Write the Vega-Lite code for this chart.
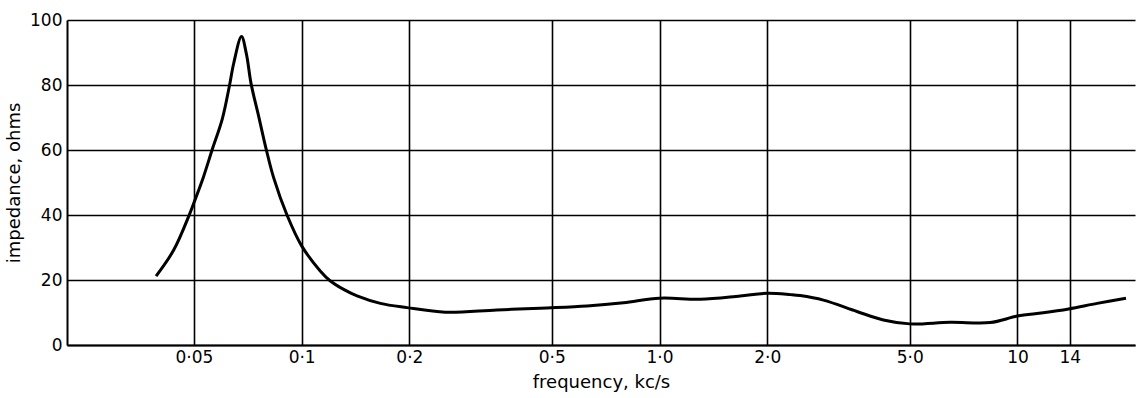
{
  "$schema": "https://vega.github.io/schema/vega-lite/v6.json",
  "width": 1068,
  "height": 325,
  "autosize": {"type": "none"},
  "padding": {"left": 67, "top": 20, "right": 5, "bottom": 53},
  "background": "white",
  "config": {
    "view": {"stroke": null},
    "font": "DejaVu Sans",
    "axis": {
      "labelFont": "DejaVu Sans",
      "titleFont": "DejaVu Sans",
      "labelColor": "black",
      "titleColor": "black",
      "labelFontSize": 17,
      "titleFontSize": 18,
      "titleFontWeight": "normal",
      "domainColor": "black",
      "domainWidth": 2,
      "gridColor": "black",
      "gridWidth": 1.6,
      "gridOpacity": 1,
      "ticks": false
    }
  },
  "data": {
    "values": [
      {"freq": 0.0392, "z": 21.2},
      {"freq": 0.0439, "z": 29.2},
      {"freq": 0.0486, "z": 40.2},
      {"freq": 0.0501, "z": 44},
      {"freq": 0.0532, "z": 51.8},
      {"freq": 0.0562, "z": 60},
      {"freq": 0.06, "z": 69.5},
      {"freq": 0.0629, "z": 80},
      {"freq": 0.0646, "z": 86.7},
      {"freq": 0.0679, "z": 94.9},
      {"freq": 0.0701, "z": 89.5},
      {"freq": 0.0722, "z": 80.5},
      {"freq": 0.0759, "z": 70.2},
      {"freq": 0.0797, "z": 60},
      {"freq": 0.0835, "z": 51.5},
      {"freq": 0.091, "z": 40},
      {"freq": 0.1, "z": 30.5},
      {"freq": 0.1127, "z": 22.8},
      {"freq": 0.1203, "z": 19.7},
      {"freq": 0.131, "z": 17.1},
      {"freq": 0.1428, "z": 15.1},
      {"freq": 0.166, "z": 12.8},
      {"freq": 0.197, "z": 11.5},
      {"freq": 0.252, "z": 10.1},
      {"freq": 0.351, "z": 10.8},
      {"freq": 0.485, "z": 11.4},
      {"freq": 0.627, "z": 12.0},
      {"freq": 0.793, "z": 13.0},
      {"freq": 1.0, "z": 14.4},
      {"freq": 1.3, "z": 14.1},
      {"freq": 1.68, "z": 15.1},
      {"freq": 2.0, "z": 15.9},
      {"freq": 2.32, "z": 15.5},
      {"freq": 2.47, "z": 15.2},
      {"freq": 2.87, "z": 13.8},
      {"freq": 3.56, "z": 10.3},
      {"freq": 4.22, "z": 7.7},
      {"freq": 5.0, "z": 6.5},
      {"freq": 6.49, "z": 7.0},
      {"freq": 8.39, "z": 6.9},
      {"freq": 10.0, "z": 8.9},
      {"freq": 11.8, "z": 9.9},
      {"freq": 13.9, "z": 11.1},
      {"freq": 16.7, "z": 12.8},
      {"freq": 20.1, "z": 14.4}
    ]
  },
  "mark": {"type": "line", "color": "black", "strokeWidth": 3, "interpolate": "catmull-rom", "clip": true},
  "encoding": {
    "x": {
      "field": "freq",
      "type": "quantitative",
      "scale": {"type": "log", "domain": [0.0221, 21.3], "nice": false},
      "axis": {
        "title": "frequency, kc/s",
        "values": [0.05, 0.1, 0.2, 0.5, 1, 2, 5, 10, 14],
        "labelExpr": "datum.value == 0.05 ? '0·05' : datum.value == 0.1 ? '0·1' : datum.value == 0.2 ? '0·2' : datum.value == 0.5 ? '0·5' : datum.value == 1 ? '1·0' : datum.value == 2 ? '2·0' : datum.value == 5 ? '5·0' : datum.value == 10 ? '10' : '14'",
        "labelPadding": 4,
        "titlePadding": 8,
        "labelFlush": false
      }
    },
    "y": {
      "field": "z",
      "type": "quantitative",
      "scale": {"domain": [0, 100], "nice": false},
      "axis": {
        "title": "impedance, ohms",
        "values": [0, 20, 40, 60, 80, 100],
        "labelPadding": 5,
        "titlePadding": 6,
        "labelFlush": false
      }
    }
  }
}
